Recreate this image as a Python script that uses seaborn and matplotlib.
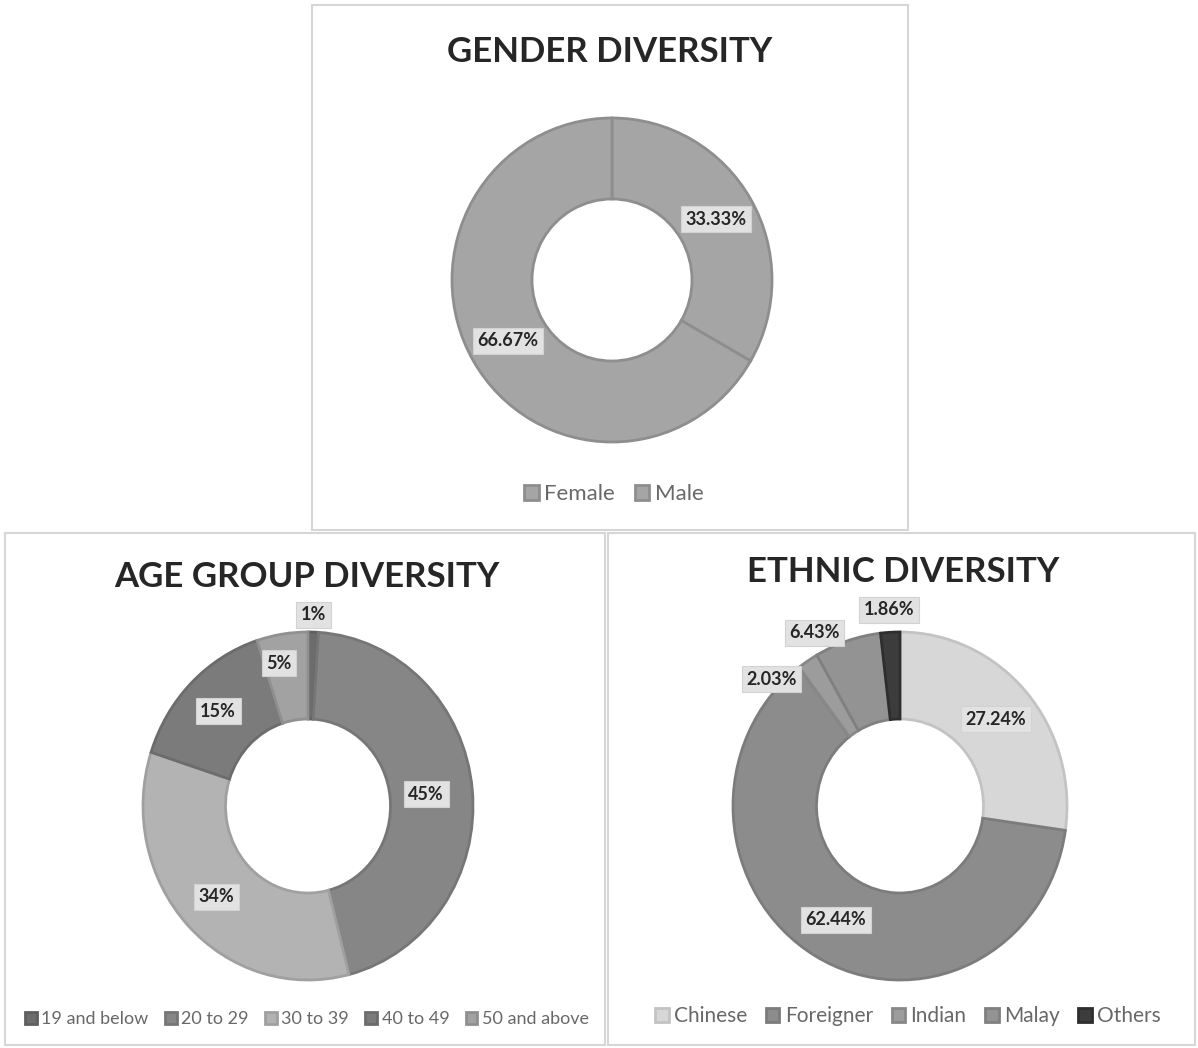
import numpy as np
import matplotlib.pyplot as plt
import seaborn as sns
from matplotlib.patches import Rectangle

sns.set_theme(style="white")
plt.rcParams['font.family'] = ['Lato', 'DejaVu Sans']

# %%    Data
gender_labels = ['Female', 'Male']
gender_values = [33.33, 66.67]
gender_colors = ['#a5a5a5', '#a5a5a5']
gender_edges = ['#8e8e8e', '#8e8e8e']

age_labels = ['19 and below', '20 to 29', '30 to 39', '40 to 49', '50 and above']
age_values = [1, 45, 34, 15, 5]
age_colors = ['#6c6c6c', '#868686', '#b3b3b3', '#7b7b7b', '#a2a2a2']
age_edges = ['#5e5e5e', '#767676', '#a0a0a0', '#6c6c6c', '#909090']

ethnic_labels = ['Chinese', 'Foreigner', 'Indian', 'Malay', 'Others']
ethnic_values = [27.24, 62.44, 2.03, 6.43, 1.86]
ethnic_colors = ['#d7d7d7', '#8c8c8c', '#9c9c9c', '#939393', '#3c3c3c']
ethnic_edges = ['#c3c3c3', '#7c7c7c', '#888888', '#808080', '#2e2e2e']

# %%    Layout helpers (pixel coords, origin top-left)
W, H = 1198, 1048
fig = plt.figure(figsize=(W / 100, H / 100), dpi=100)


def px_axes(x0, y0, x1, y1):
    return fig.add_axes([x0 / W, 1 - y1 / H, (x1 - x0) / W, (y1 - y0) / H])


def frame(x0, y0, x1, y1):
    fig.patches.append(Rectangle((x0 / W, 1 - y1 / H), (x1 - x0) / W, (y1 - y0) / H,
                                 transform=fig.transFigure, fill=False,
                                 ec='#d6d6d6', lw=1.5))


def donut(cx, cy, rx, ry, values, colors, edges, texts, label_r, label_shift):
    ax = px_axes(cx - 1.25 * rx, cy - 1.25 * ry, cx + 1.25 * rx, cy + 1.25 * ry)
    wedges, _ = ax.pie(values, colors=colors, startangle=90, counterclock=False,
                       wedgeprops=dict(width=0.5, linewidth=2))
    for w, ec in zip(wedges, edges):
        w.set_edgecolor(ec)
    ax.set_aspect('auto')
    ax.set_xlim(-1.25, 1.25)
    ax.set_ylim(-1.25, 1.25)
    for w, t, r, s in zip(wedges, texts, label_r, label_shift):
        ang = np.deg2rad((w.theta1 + w.theta2) / 2 + s)
        ax.text(r * np.cos(ang), r * np.sin(ang), t, ha='center', va='center',
                fontsize=13, fontweight='bold', color='#262626', clip_on=False,
                bbox=dict(boxstyle='square,pad=0.25', fc='#e2e2e2', ec='#d2d2d2', lw=0.8))
    return ax, wedges


def legend(ax, wedges, labels, x, y, fs):
    ax.legend(wedges, labels, loc='center', bbox_to_anchor=(x / W, 1 - y / H),
              bbox_transform=fig.transFigure, ncol=len(labels), frameon=False,
              handlelength=0.65, handleheight=0.65, handletextpad=0.25,
              columnspacing=0.9, fontsize=fs, labelcolor='#686868')


def title(text, x, y):
    fig.text(x / W, 1 - y / H, text, ha='center', va='center', fontsize=25,
             fontweight='bold', color='#262626')


# %%    Gender
frame(312, 5, 908, 530)
title('GENDER DIVERSITY', 610, 52)
ax, wd = donut(612, 280, 160, 162, gender_values, gender_colors, gender_edges,
               [f'{v:.2f}%' for v in gender_values], [0.75, 0.75], [0, 0])
legend(ax, wd, gender_labels, 614, 494, 16)

# %%    Age group
frame(5, 533, 605, 1045)
title('AGE GROUP DIVERSITY', 307, 577)
ax, wd = donut(308, 806, 165, 174, age_values, age_colors, age_edges,
               [f'{v:g}%' for v in age_values],
               [1.1, 0.72, 0.76, 0.77, 0.84], [0, 0, 0, 0, 3])
legend(ax, wd, age_labels, 307, 1019, 13)

# %%    Ethnic
frame(608, 533, 1195, 1045)
title('ETHNIC DIVERSITY', 903, 572)
ax, wd = donut(900, 806, 167, 174, ethnic_values, ethnic_colors, ethnic_edges,
               [f'{v:.2f}%' for v in ethnic_values],
               [0.76, 0.76, 1.06, 1.12, 1.13], [0, 0, 13, 9, 0])
legend(ax, wd, ethnic_labels, 908, 1016, 15)

fig.savefig('out.png', dpi=100, facecolor='white')
